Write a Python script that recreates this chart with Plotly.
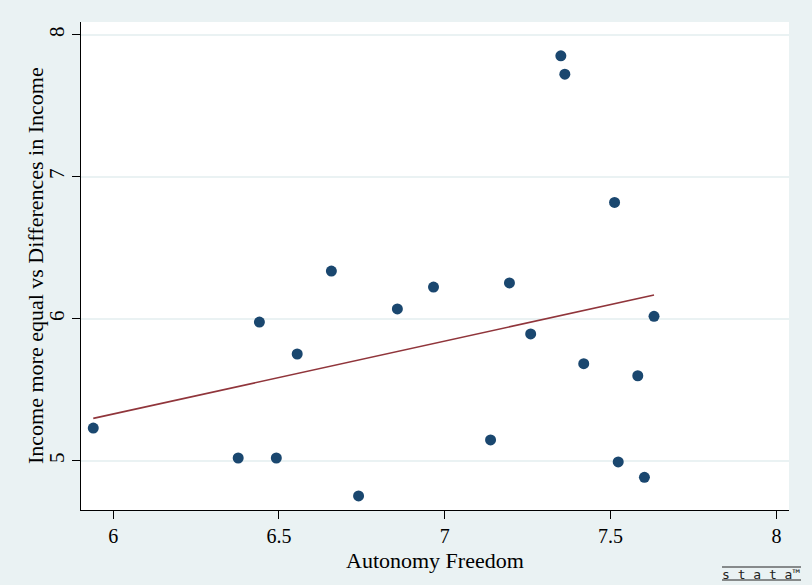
import plotly.graph_objects as go

autonomy = [5.940, 6.377, 6.492, 6.441, 6.555, 6.658, 6.740, 6.857, 6.966, 7.195,
            7.138, 7.259, 7.350, 7.362, 7.512, 7.419, 7.582, 7.631, 7.523, 7.602]
income_eq = [5.232, 5.021, 5.021, 5.978, 5.753, 6.337, 4.754, 6.070, 6.224, 6.253,
             5.148, 5.894, 7.852, 7.723, 6.820, 5.685, 5.600, 6.018, 4.993, 4.885]

fit_x = [5.940, 7.631]
fit_y = [5.300, 6.168]

x_ticks = [6, 6.5, 7, 7.5, 8]
x_tick_labels = ["6", "6.5", "7", "7.5", "8"]
y_ticks = [5, 6, 7, 8]
y_tick_labels = ["5", "6", "7", "8"]

BG = "#eaf2f3"
FONT = "Liberation Serif"
L, R, T, B = 81, 23, 22, 75
PW, PH = 812 - L - R, 585 - T - B

fig = go.Figure()
fig.add_trace(go.Scatter(x=autonomy, y=income_eq, mode="markers",
                         marker=dict(color="#1a476f", size=11, line=dict(width=0)),
                         showlegend=False))
fig.add_trace(go.Scatter(x=fit_x, y=fit_y, mode="lines",
                         line=dict(color="#90353b", width=1.6),
                         showlegend=False))

fig.update_layout(
    width=812, height=585,
    margin=dict(l=L, r=R, t=T, b=B),
    paper_bgcolor=BG, plot_bgcolor="white",
    font=dict(family=FONT, color="black", size=20),
    xaxis=dict(range=[5.903, 8.038], tickvals=x_ticks, ticktext=x_tick_labels,
               showgrid=False, zeroline=False, showline=True, linecolor="black", linewidth=1,
               ticks="outside", ticklen=8, tickcolor="black",
               tickfont=dict(family=FONT, size=20)),
    yaxis=dict(range=[4.655, 8.09], tickvals=y_ticks, ticktext=y_tick_labels,
               showgrid=True, gridcolor=BG, gridwidth=1.5,
               zeroline=False, showline=True, linecolor="black", linewidth=1,
               ticks="outside", ticklen=8, tickcolor="black", tickangle=-90,
               tickfont=dict(family=FONT, size=21)),
)

def px(x):
    return (x - L) / PW

def py(y):
    return (585 - B - y) / PH

# axis titles
fig.add_annotation(xref="paper", yref="paper", x=px(435), y=py(560),
                   xanchor="center", yanchor="middle", showarrow=False,
                   text="Autonomy Freedom", font=dict(family=FONT, size=22))
fig.add_annotation(xref="paper", yref="paper", x=px(35), y=py(266),
                   xanchor="center", yanchor="middle", showarrow=False, textangle=-90,
                   text="Income more equal vs Differences in Income",
                   font=dict(family=FONT, size=22))

# Stata logo
fig.add_annotation(xref="paper", yref="paper", x=px(761), y=py(574),
                   xanchor="center", yanchor="middle",
                   text="s t a t a™", showarrow=False,
                   font=dict(family="DejaVu Sans Mono", size=13, color="#222"))
for yy in (567, 580):
    fig.add_shape(type="line", xref="paper", yref="paper",
                  x0=px(722), x1=px(801), y0=py(yy), y1=py(yy),
                  line=dict(color="#222", width=1))

fig.write_html("out.html")
